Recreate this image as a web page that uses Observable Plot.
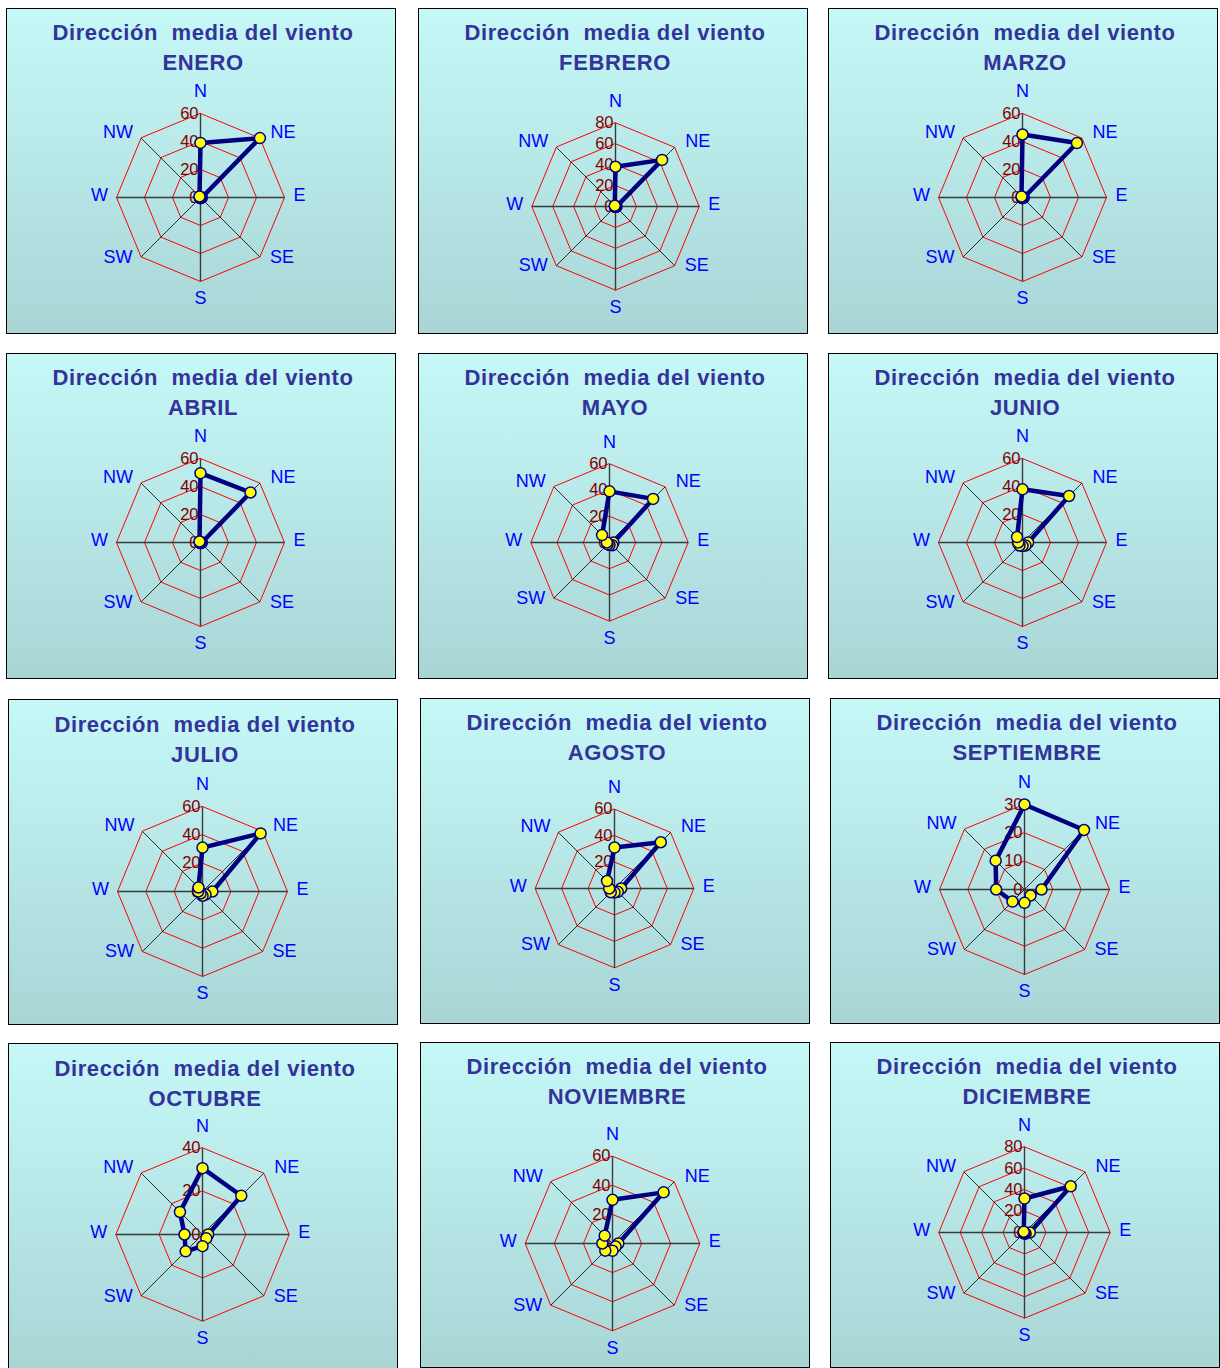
<!DOCTYPE html>
<html><head><meta charset="utf-8">
<script src="https://cdn.jsdelivr.net/npm/d3@7"></script>
<script src="https://cdn.jsdelivr.net/npm/@observablehq/plot@0.6"></script>
<style>
body{margin:0;background:#fff;width:1220px;height:1368px;position:relative;overflow:hidden;font-family:"Liberation Sans",Arial,sans-serif;}
.panel{position:absolute;width:390px;height:326px;box-sizing:border-box;border:1px solid #000;background:linear-gradient(#c6f8f8,#a9d5d5);}
.t{position:absolute;transform:translate(-50%,-50%);white-space:pre;font-weight:bold;font-size:22px;letter-spacing:0.6px;color:#333399;}
.chart{position:absolute}
</style></head><body>
<script>
// ---- data ----
const months = ["ENERO","FEBRERO","MARZO","ABRIL","MAYO","JUNIO","JULIO","AGOSTO","SEPTIEMBRE","OCTUBRE","NOVIEMBRE","DICIEMBRE"];
const directions = ["N","NE","E","SE","S","SW","W","NW"];
const enero      = [39, 60, 1, 0.5, 0.5, 0.5, 0.5, 1];
const febrero    = [38, 63, 1, 0.5, 0.5, 0.5, 0.5, 1];
const marzo      = [45, 55, 1, 0.5, 0.5, 0.5, 0.5, 1];
const abril      = [49.5, 50.5, 1, 0.5, 0.5, 0.5, 0.5, 1];
const mayo       = [39, 47, 3, 3, 2, 2, 2, 8];
const junio      = [38, 47, 4, 3, 2.5, 3, 3, 5.5];
const julio      = [31, 58, 7, 3, 3, 2, 3, 4];
const agosto     = [31, 49.5, 5, 3.5, 3, 4, 4, 8];
const septiembre = [30, 29.7, 6, 3, 4.7, 6, 10, 14.4];
const octubre    = [30.6, 25.3, 2.6, 2.5, 5.4, 11, 8.3, 14.7];
const noviembre  = [30, 49.7, 4, 3, 5, 7, 7, 7.6];
const diciembre  = [31.7, 61, 5, 1.5, 1, 1, 1, 1];
const series = [enero,febrero,marzo,abril,mayo,junio,julio,agosto,septiembre,octubre,noviembre,diciembre];
const scaleMax = [60, 80, 60, 60, 60, 60, 60, 60, 30, 40, 60, 80];
const tickStep = [20, 20, 20, 20, 20, 20, 20, 20, 10, 20, 20, 20];
const titleText = "Dirección  media del viento";

// ---- layout ----
const layout = [
  {px:6,  py:8,   cx:200,   cy:197.3, r:84,   tx:203, ty:32},
  {px:418,py:8,   cx:615.3, cy:206,   r:83.7, tx:615, ty:32},
  {px:828,py:8,   cx:1022.3,cy:196.7, r:84,   tx:1025,ty:32},
  {px:6,  py:353, cx:200,   cy:542.3, r:84,   tx:203, ty:377},
  {px:418,py:353, cx:609,   cy:542,   r:78.7, tx:615, ty:377},
  {px:828,py:353, cx:1022.3,cy:542.3, r:84,   tx:1025,ty:377},
  {px:8,  py:699, cx:201.7, cy:891.3, r:85,   tx:205, ty:724},
  {px:420,py:698, cx:614.3, cy:888.3, r:79.3, tx:617, ty:722},
  {px:830,py:698, cx:1024,  cy:889,   r:85,   tx:1027,ty:722},
  {px:8,  py:1043,cx:201.7, cy:1234.3,r:86.7, tx:205, ty:1068},
  {px:420,py:1042,cx:612.3, cy:1243,  r:87.3, tx:617, ty:1066},
  {px:830,py:1042,cx:1024,  cy:1232.3,r:85.7, tx:1027,ty:1066}
];
const labOff = {N:[0,-22],NE:[23,-6],E:[15,-2],SE:[22,0],S:[0,17],SW:[-23,0],W:[-17,-2],NW:[-23,-6]};
const FONT = "'Liberation Sans', Arial, sans-serif";

function radar(vals, max, step, rpx) {
  const S = 150;
  const ang = i => i * Math.PI / 4;
  const X = d => d.v * Math.sin(ang(d.i));
  const Y = d => d.v * Math.cos(ang(d.i));
  const rings = d3.range(step, max + step / 2, step);
  const ringPts = rings.flatMap(t => directions.map((d, i) => ({ring: t, i, v: t})));
  const spokes = directions.map((d, i) => ({dir: d, i, v: max}));
  const pts = directions.map((d, i) => ({dir: d, i, v: vals[i]}));
  const ticks = d3.range(0, max + step / 2, step);
  const marks = [
    Plot.line(ringPts, {x: X, y: Y, z: "ring", curve: "linear-closed", stroke: "#ff0000", strokeWidth: 1}),
    Plot.link(spokes.filter(d => d.i % 2 === 1), {x1: () => 0, y1: () => 0, x2: X, y2: Y, stroke: "#000", strokeWidth: 0.8}),
    Plot.link(spokes.filter(d => d.i % 2 === 0), {x1: () => 0, y1: () => 0, x2: X, y2: Y, stroke: "#3a3a3a", strokeWidth: 1.4}),
    Plot.text(ticks, {x: () => 0, y: d => d, text: d => String(d), textAnchor: "end", dx: -2, fill: "#800000", fontSize: 16.5}),
    ...spokes.map(d => Plot.text([d], {x: X, y: Y, text: "dir", dx: labOff[d.dir][0], dy: labOff[d.dir][1], fill: "#0000ff", fontSize: 18})),
    Plot.line(pts, {x: X, y: Y, curve: "linear-closed", stroke: "#000080", strokeWidth: 4.5, strokeLinejoin: "round"}),
    Plot.dot(pts, {x: X, y: Y, r: 5.5, fill: "#ffff00", stroke: "#000080", strokeWidth: 1.5})
  ];
  return Plot.plot({
    width: 2 * S, height: 2 * S, margin: 0,
    x: {domain: [-max, max], range: [S - rpx, S + rpx]},
    y: {domain: [-max, max], range: [S + rpx, S - rpx]},
    axis: null,
    style: {background: "transparent", overflow: "visible", fontFamily: FONT},
    marks
  });
}

months.forEach((m, k) => {
  const L = layout[k];
  const p = document.createElement("div");
  p.className = "panel";
  p.style.left = L.px + "px"; p.style.top = L.py + "px";
  document.body.appendChild(p);
  const t1 = document.createElement("div");
  t1.className = "t"; t1.textContent = titleText;
  t1.style.left = L.tx + "px"; t1.style.top = (L.ty + 1) + "px";
  document.body.appendChild(t1);
  const t2 = document.createElement("div");
  t2.className = "t"; t2.textContent = m;
  t2.style.left = L.tx + "px"; t2.style.top = (L.ty + 31) + "px";
  document.body.appendChild(t2);
  const svg = radar(series[k], scaleMax[k], tickStep[k], L.r);
  const w = document.createElement("div");
  w.className = "chart";
  w.style.left = (L.cx - 150) + "px"; w.style.top = (L.cy - 150) + "px";
  w.appendChild(svg);
  document.body.appendChild(w);
});
</script>
</body></html>
